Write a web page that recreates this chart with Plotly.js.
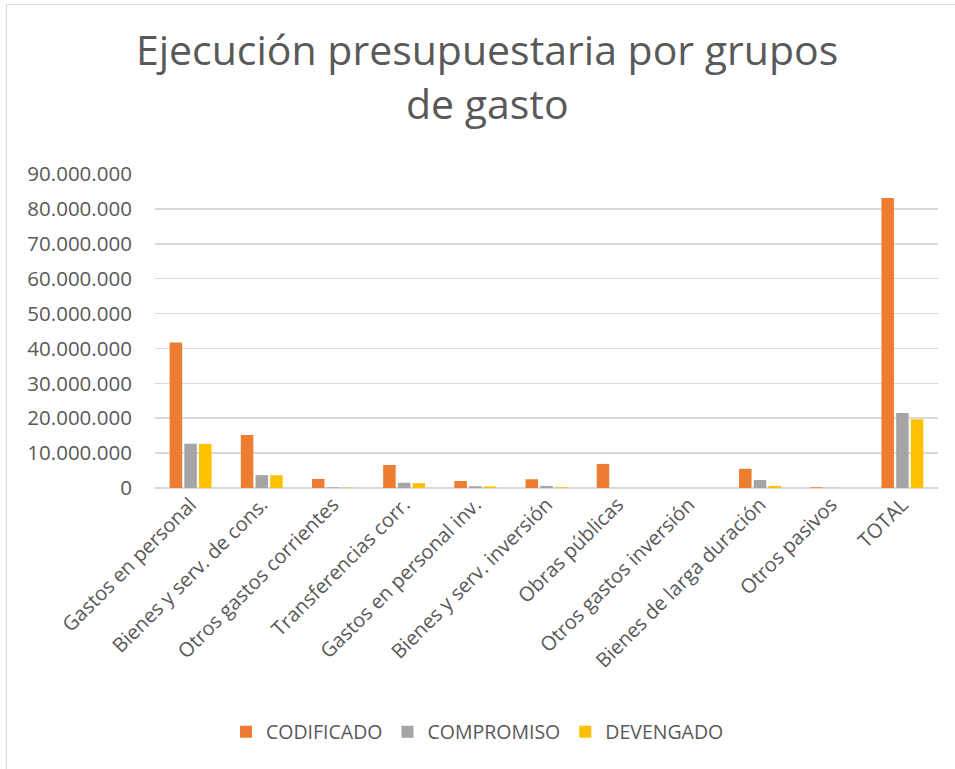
<!DOCTYPE html>
<html>
<head>
<meta charset="utf-8">
<script src="https://cdn.plot.ly/plotly-3.0.1.min.js"></script>
<style>
  html, body { margin: 0; padding: 0; background: #fff; }
  #frame { position: absolute; left: 6px; top: 4px; width: 960px; height: 780px; border: 1.5px solid #d9d9d9; box-sizing: border-box; }
  #chart { position: absolute; left: 0; top: 0; width: 955px; height: 769px; }
</style>
</head>
<body>
<div id="frame"></div>
<div id="chart"></div>
<script>
const categories = [
  "Gastos en personal",
  "Bienes y serv. de cons.",
  "Otros gastos corrientes",
  "Transferencias corr.",
  "Gastos en personal inv.",
  "Bienes y serv. inversión",
  "Obras públicas",
  "Otros gastos inversión",
  "Bienes de larga duración",
  "Otros pasivos",
  "TOTAL"
];
const codificado = [41700000, 15200000, 2600000, 6600000, 2000000, 2500000, 6900000, 0, 5500000, 200000, 83100000];
const compromiso = [12700000, 3700000, 200000, 1500000, 500000, 600000, 0, 0, 2300000, 50000, 21500000];
const devengado  = [12650000, 3650000, 100000, 1400000, 450000, 200000, 0, 0, 600000, 0, 19700000];
const seriesNames = ["CODIFICADO", "COMPROMISO", "DEVENGADO"];
const tickVals = [0, 10000000, 20000000, 30000000, 40000000, 50000000, 60000000, 70000000, 80000000, 90000000];
const titleLine1 = "Ejecución presupuestaria por grupos";
const titleLine2 = "de gasto";

const colors = ["#ed7d31", "#a5a5a5", "#ffc000"];
const font = "Open Sans, sans-serif";
const textColor = "#595959";

const data = [codificado, compromiso, devengado].map((vals, i) => ({
  type: "bar",
  name: seriesNames[i],
  x: categories,
  y: vals,
  marker: { color: colors[i], line: { width: 0 } },
  hoverinfo: "x+y+name"
}));

const layout = {
  width: 955,
  height: 769,
  paper_bgcolor: "rgba(0,0,0,0)",
  plot_bgcolor: "rgba(0,0,0,0)",
  separators: ",.",
  margin: { l: 155, r: 17, t: 174, b: 281 },
  title: {
    text: titleLine1,
    font: { family: font, size: 41, color: textColor },
    x: 0.51, xref: "container", xanchor: "center",
    y: 1 - 51 / 769, yref: "container", yanchor: "middle"
  },
  annotations: [{
    text: titleLine2,
    font: { family: font, size: 41, color: textColor },
    xref: "paper", yref: "paper",
    x: (487 - 155) / 783, y: 1 + (174 - 103) / 314,
    xanchor: "center", yanchor: "middle",
    showarrow: false
  }],
  barmode: "group",
  bargap: 0.38,
  bargroupgap: 0.15,
  xaxis: {
    type: "category",
    tickangle: -45,
    tickfont: { family: font, size: 20, color: textColor },
    showgrid: false,
    showline: false,
    ticks: "",
    automargin: false
  },
  yaxis: {
    range: [0, 90000000],
    tickvals: tickVals,
    tickformat: ",d",
    tickfont: { family: font, size: 20.5, color: textColor },
    gridcolor: "#d9d9d9",
    gridwidth: 1.5,
    zeroline: true,
    zerolinecolor: "#d9d9d9",
    zerolinewidth: 1.5,
    showline: false,
    ticks: "outside",
    ticklen: 18,
    tickcolor: "rgba(0,0,0,0)",
    automargin: false,
    fixedrange: true
  },
  showlegend: true,
  legend: {
    orientation: "h",
    xref: "container", x: 0.5, xanchor: "center",
    yref: "container", y: 1 - 732 / 769, yanchor: "middle",
    font: { family: font, size: 19.5, color: textColor },
    itemwidth: 30,
    traceorder: "normal"
  }
};

Plotly.newPlot("chart", data, layout, { displayModeBar: false, staticPlot: true });
</script>
</body>
</html>
